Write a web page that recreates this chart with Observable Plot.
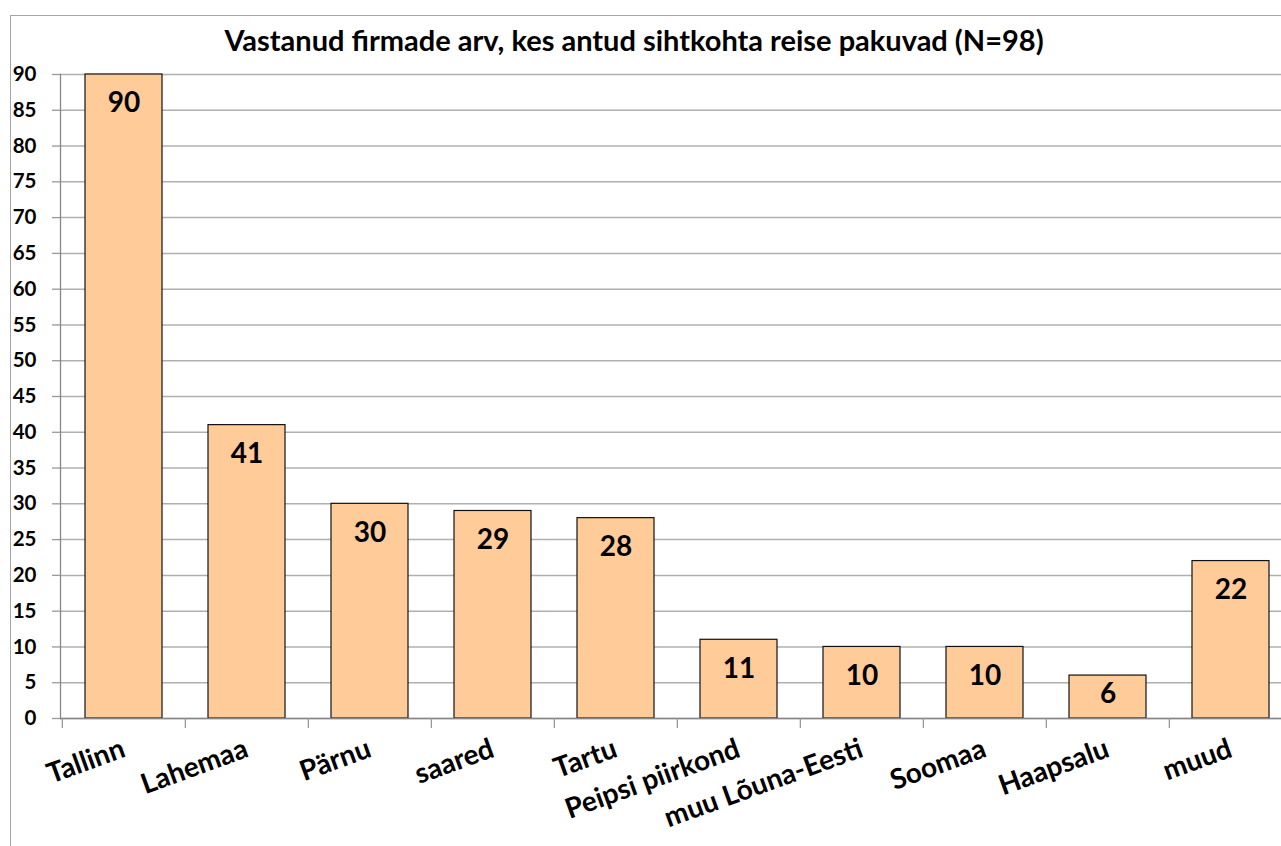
<!DOCTYPE html>
<html>
<head>
<meta charset="utf-8">
<script src="https://cdn.jsdelivr.net/npm/d3@7"></script>
<script src="https://cdn.jsdelivr.net/npm/@observablehq/plot@0.6"></script>
<style>
  html, body { margin: 0; padding: 0; background: #fff; overflow: hidden; }
  #wrap { position: relative; width: 1281px; height: 846px; overflow: hidden; font-family: Lato, "Open Sans", sans-serif; }
  #border { position: absolute; left: 10px; top: 15px; width: 1400px; height: 1000px; border: 1.5px solid #a6a6a6; box-sizing: border-box; }
  #title { position: absolute; left: 0; top: 24px; width: 1268px; text-align: center; font-weight: bold; font-size: 29px; line-height: 32px; color: #000; }
  #chart { position: absolute; left: 0; top: 0; }
</style>
</head>
<body>
<div id="wrap">
  <div id="border"></div>
  <div id="chart"></div>
  <div id="title">Vastanud firmade arv, kes antud sihtkohta reise pakuvad (N=98)</div>
</div>
<script>
const categories = ["Tallinn", "Lahemaa", "Pärnu", "saared", "Tartu", "Peipsi piirkond", "muu Lõuna-Eesti", "Soomaa", "Haapsalu", "muud"];
const values = [90, 41, 30, 29, 28, 11, 10, 10, 6, 22];
const yTicks = [0, 5, 10, 15, 20, 25, 30, 35, 40, 45, 50, 55, 60, 65, 70, 75, 80, 85, 90];

const data = categories.map((c, i) => ({category: c, value: values[i]}));
const step = (1293 - 60) / categories.length;
const labelStyle = {fontSize: 28, fontWeight: "bold", fill: "#000", lineAnchor: "middle"};

const chart = Plot.plot({
  width: 1281,
  height: 846,
  marginLeft: 60,
  marginTop: 74,
  marginBottom: 128,
  marginRight: 0,
  style: {fontFamily: "Lato, 'Open Sans', sans-serif", color: "#000", background: "transparent", overflow: "visible"},
  x: {domain: categories, range: [60, 1293], paddingInner: 0.375, paddingOuter: 0.1875, axis: null},
  y: {domain: [0, 90], axis: null},
  marks: [
    Plot.gridY(yTicks, {stroke: "#b0b0b0", strokeOpacity: 1, strokeWidth: 1.5}),
    Plot.axisY(yTicks, {label: null, tickSize: 8, tickPadding: 16, stroke: "#999", strokeWidth: 1.3, fontSize: 20.5, fontWeight: "bold", fill: "#000", tickFormat: d => String(d)}),
    Plot.barY(data, {x: "category", y: "value", fill: "#FFCC99", stroke: "#111", strokeWidth: 1.2}),
    Plot.frame({anchor: "left", stroke: "#888", strokeWidth: 1.3}),
    Plot.ruleY([0], {stroke: "#888", strokeWidth: 1.3}),
    Plot.axisX(categories, {label: null, tickSize: 10, dx: -step / 2, stroke: "#999", strokeWidth: 1.3, tickFormat: () => ""}),
    Plot.axisX(categories, {label: null, tickSize: 0, tickPadding: 19, tickRotate: -20, textAnchor: "end", lineAnchor: "top", dx: -4, fontSize: 28, fontWeight: "bold", fill: "#000"}),
    Plot.text(data.filter(d => d.value >= 8), {x: "category", y: "value", text: d => String(d.value), dy: 29, ...labelStyle}),
    Plot.text(data.filter(d => d.value < 8), {x: "category", y: d => d.value / 2, text: d => String(d.value), dy: -3, ...labelStyle})
  ]
});
document.getElementById("chart").appendChild(chart);
</script>
</body>
</html>
